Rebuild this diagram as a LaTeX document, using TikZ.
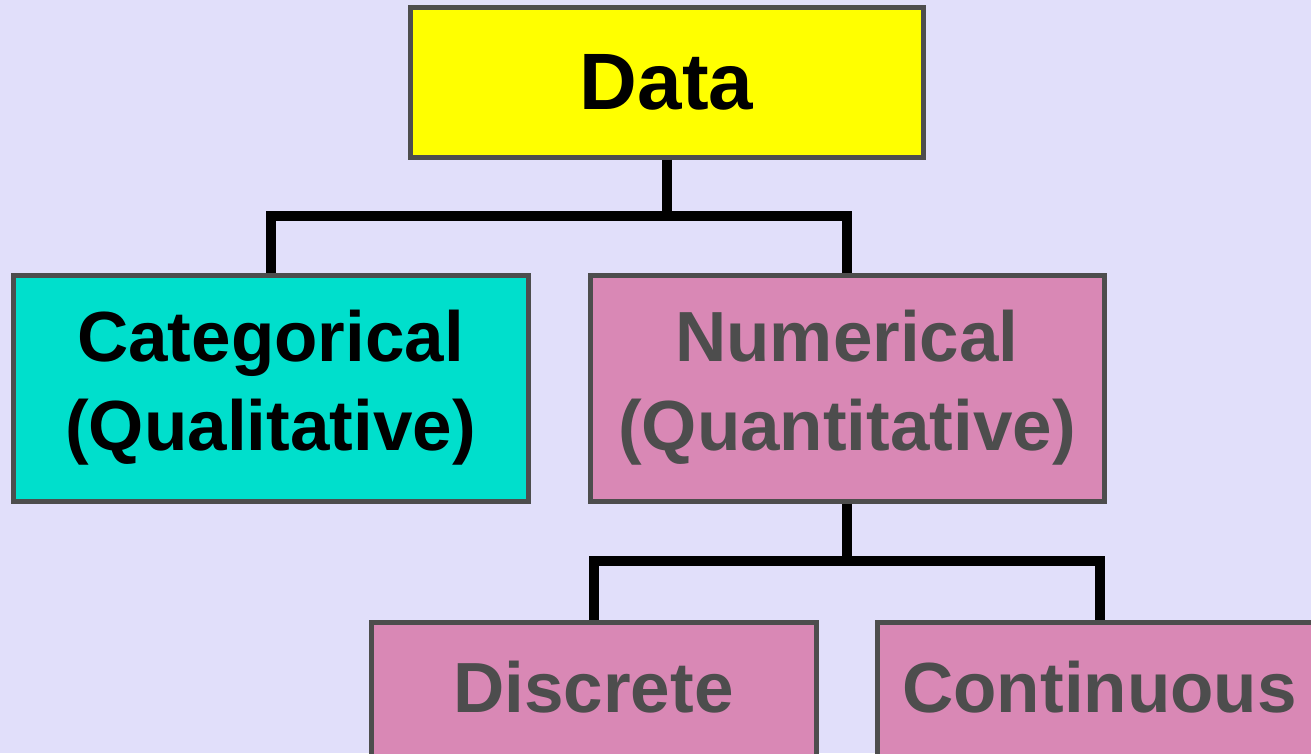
\documentclass[tikz,border=0pt]{standalone}
\usepackage{fontspec}
\setmainfont{Liberation Sans}
\definecolor{bgc}{HTML}{E1DFFA}
\definecolor{edgec}{HTML}{4D4D4D}
\definecolor{yel}{HTML}{FFFF00}
\definecolor{cyanc}{HTML}{00DFCC}
\definecolor{pinkc}{HTML}{D988B5}
\definecolor{txtgray}{HTML}{4D4D4D}
\begin{document}
\begin{tikzpicture}[x=1pt,y=-1pt,
  boxbase/.style={draw=edgec, line width=5pt, rectangle, inner sep=0pt, align=center,
    font=\fontsize{71}{89}\selectfont\bfseries},
  topbox/.style={boxbase, fill=yel, text=black, minimum width=513pt, minimum height=150pt,
    font=\fontsize{80}{96}\selectfont\bfseries},
  catbox/.style={boxbase, fill=cyanc, text=black, minimum width=515pt, minimum height=226pt},
  numbox/.style={boxbase, fill=pinkc, text=txtgray, minimum width=514pt, minimum height=226pt},
  leafbox/.style={boxbase, fill=pinkc, text=txtgray, minimum width=445pt, minimum height=200pt,
    anchor=north, text height=90pt, text depth=110pt},
  link/.style={line width=10pt, black}
]
\useasboundingbox[fill=bgc] (0,0) rectangle (1311,753);
\node[topbox] (data) at (666.5,82) {Data};
\node[catbox] (cat) at (270.5,388) {Categorical\\(Qualitative)};
\node[numbox] (num) at (847,388) {Numerical\\(Quantitative)};
\node[leafbox] (disc) at (593.5,620) {Discrete};
\node[leafbox] (cont) at (1099.5,620) {Continuous};
\coordinate (j1) at (666.5,216);
\coordinate (j2) at (847,561);
\draw[link] (data.south) -- (j1);
\draw[link] (cat.north) |- (j1) -| (num.north);
\draw[link] (num.south) -- (j2);
\draw[link] (disc.north) |- (j2) -| (cont.north);
\end{tikzpicture}
\end{document}
